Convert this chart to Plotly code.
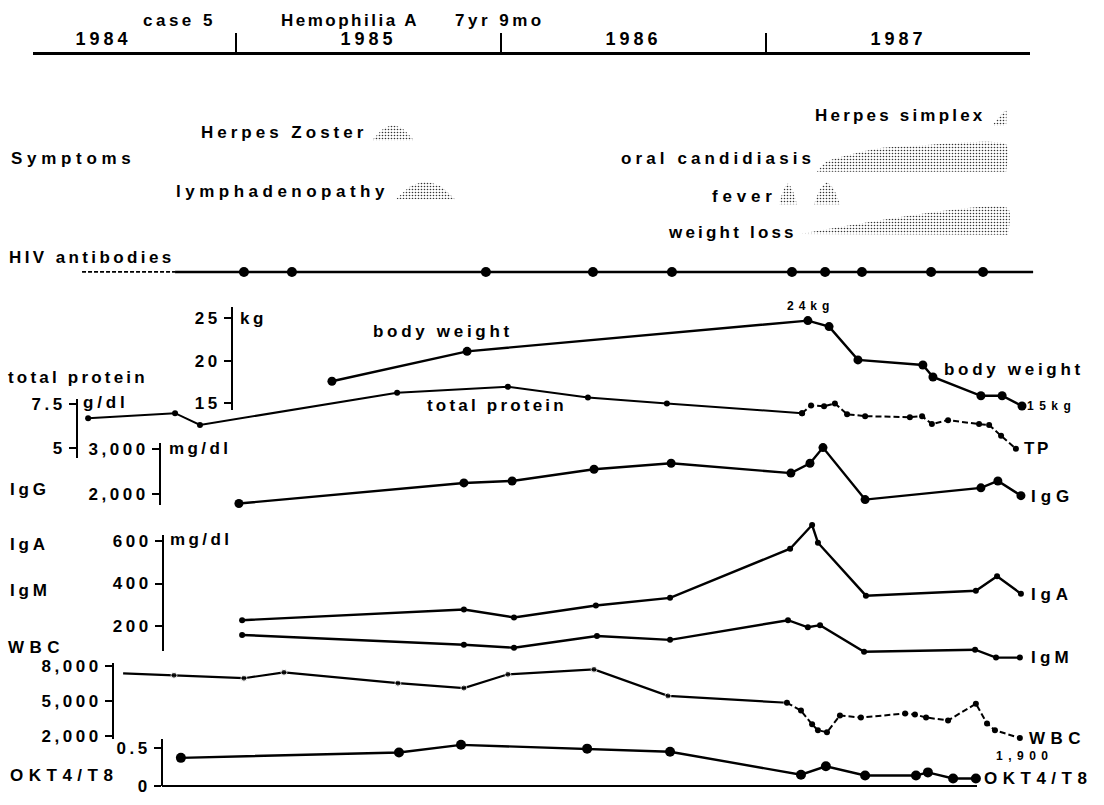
import plotly.graph_objects as go

W, H = 1104, 805

# ---------------- data ----------------
year_labels = ["1984", "1985", "1986", "1987"]
year_bounds = [1985, 1986, 1987]

hiv_dates = [1985.030, 1985.211, 1985.943, 1986.347, 1986.645,
             1987.098, 1987.223, 1987.362, 1987.623, 1987.819]
hiv_unknown_span = [1984.419, 1984.770]
hiv_positive_span = [1984.770, 1988.008]

bw_dates = [1985.362, 1985.872, 1987.158, 1987.238, 1987.347,
            1987.592, 1987.630, 1987.811, 1987.891, 1987.966]
bw_kg = [17.6, 21.1, 24.7, 24.0, 20.1, 19.5, 18.1, 15.9, 15.9, 14.7]

tp_dates = [1984.442, 1984.770, 1984.864, 1985.608, 1986.026, 1986.328, 1986.626,
            1987.136, 1987.170, 1987.219, 1987.260, 1987.306, 1987.374, 1987.543,
            1987.589, 1987.626, 1987.687, 1987.804, 1987.842, 1987.887, 1987.943]
tp_gdl = [6.70, 6.99, 6.31, 8.18, 8.52, 7.90, 7.56,
          6.99, 7.44, 7.39, 7.56, 6.93, 6.82, 6.76,
          6.82, 6.36, 6.59, 6.36, 6.31, 5.68, 4.94]
tp_dense_from = 7

igg_dates = [1985.011, 1985.860, 1986.042, 1986.351, 1986.642, 1987.094,
             1987.166, 1987.215, 1987.374, 1987.811, 1987.875, 1987.962]
igg = [1783, 2239, 2283, 2543, 2674, 2457, 2674, 3022, 1870, 2130, 2283, 1957]

iga_dates = [1985.023, 1985.860, 1986.049, 1986.358, 1986.638, 1987.091,
             1987.174, 1987.196, 1987.377, 1987.792, 1987.872, 1987.962]
iga = [228, 278, 241, 297, 333, 563, 674, 591, 343, 366, 434, 352]

igm_dates = [1985.023, 1985.860, 1986.049, 1986.362, 1986.638, 1987.083,
             1987.158, 1987.204, 1987.370, 1987.789, 1987.868, 1987.958]
igm = [159, 113, 99, 154, 136, 228, 195, 205, 80, 90, 53, 53]

wbc_dates = [1984.574, 1984.766, 1985.030, 1985.181, 1985.611, 1985.860, 1986.026,
             1986.351, 1986.630, 1987.079, 1987.132, 1987.174, 1987.196, 1987.230,
             1987.279, 1987.358, 1987.525, 1987.562, 1987.604, 1987.687, 1987.792,
             1987.834, 1987.864, 1987.958]
wbc = [7408, 7239, 6986, 7493, 6563, 6140, 7324, 7746, 5464, 4872, 4196, 3013,
       2506, 2337, 3774, 3604, 3943, 3858, 3604, 3351, 4788, 3097, 2506, 1829]
wbc_dense_from = 9

okt_dates = [1984.792, 1985.615, 1985.849, 1986.325, 1986.638, 1987.132,
             1987.226, 1987.374, 1987.566, 1987.611, 1987.706, 1987.792]
okt = [0.37, 0.44, 0.54, 0.49, 0.45, 0.15, 0.26, 0.14, 0.14, 0.18, 0.10, 0.10]

# symptom intensity profiles (time, relative intensity 0..1)
sym_names = ["Herpes Zoster", "lymphadenopathy", "Herpes simplex",
             "oral candidiasis", "fever", "fever", "weight loss"]
sym_t = [
    [1985.513, 1985.555, 1985.592, 1985.630, 1985.672],
    [1985.604, 1985.660, 1985.713, 1985.770, 1985.826],
    [1987.853, 1987.906, 1987.906],
    [1987.192, 1987.226, 1987.321, 1987.426, 1987.562, 1987.906, 1987.906],
    [1987.049, 1987.066, 1987.083, 1987.100, 1987.117],
    [1987.181, 1987.205, 1987.230, 1987.255, 1987.279],
    [1987.125, 1987.913, 1987.913],
]
sym_i = [
    [0, 0.42, 0.55, 0.42, 0],
    [0, 0.48, 0.64, 0.48, 0],
    [0, 0.56, 0],
    [0, 0.36, 0.64, 0.86, 0.95, 1.0, 0],
    [0, 0.52, 0.75, 0.52, 0],
    [0, 0.56, 0.80, 0.56, 0],
    [0.02, 0.96, 0],
]

# ---------------- layout constants (pixels of the page) ----------------
X0_PX, YEAR_PX = 236, 265          # 1985-01-01 at x=236, one year = 265 px
def t_of_px(px):
    return 1985 + (px - X0_PX) / YEAR_PX

def PX(x):
    return x / W

def PY(y):
    return 1 - y / H

sym_lane_px = [138, 198, 123, 170, 203, 203, 234]
sym_height_px = 28
hiv_lane_px = 272

FONT = "Liberation Sans, Arial, sans-serif"

def sp(s, ls=2.5):
    return f'<span style="letter-spacing:{ls}px">{s}</span>'

fig = go.Figure()
layout_axes = {}

# lane axis for symptoms and HIV (value = -pixel row)
layout_axes["yaxis"] = dict(domain=[0, 1], range=[-H, 0], visible=False, fixedrange=True)

def scale_axis(v1, p1, v2, p2, ptop, pbot):
    k = (p2 - p1) / (v2 - v1)
    val = lambda p: v1 + (p - p1) / k
    return [val(pbot), val(ptop)]

panels = [
    ("kg", (25, 319, 15, 406), 232, 308, 413, [25, 20, 15], ["25", "20", "15"]),
    ("tp", (7.5, 407, 5, 451), 77, 401, 462, [7.5, 5], ["7.5", "5"]),
    ("igg", (3000, 452, 2000, 498), 160, 446, 510, [3000, 2000], ["3,000", "2,000"]),
    ("igam", (600, 546, 200, 633), 163, 540, 658, [600, 400, 200], ["600", "400", "200"]),
    ("wbc", (8000, 674, 2000, 745), 113, 670, 748, [8000, 5000, 2000], ["8,000", "5,000", "2,000"]),
    ("okt", (0.5, 757, 0, 796), 162, 748, 796, [0.5, 0], ["0.5", "0"]),
]
data_axis = {}
n = 2
for name, (v1, p1, v2, p2), ax_px, ptop, pbot, tv, tt in panels:
    data_axis[name] = f"y{n}"
    layout_axes[f"yaxis{n}"] = dict(domain=[0, 1], range=scale_axis(v1, p1, v2, p2, 0, H),
                                   visible=False, anchor="x", fixedrange=True)
    layout_axes[f"yaxis{n+1}"] = dict(
        domain=[PY(pbot), PY(ptop)], range=scale_axis(v1, p1, v2, p2, ptop, pbot),
        anchor="free", position=PX(ax_px), side="left",
        showline=True, linecolor="black", linewidth=2,
        ticks="outside", ticklen=7, tickwidth=2, tickcolor="black",
        tickvals=tv, ticktext=[sp(s, 3.5) for s in tt], showgrid=False, zeroline=False,
        tickfont=dict(size=17, family=FONT, color="black", weight="bold"), fixedrange=True)
    fig.add_trace(go.Scatter(x=[None], y=[None], xaxis="x", yaxis=f"y{n+1}",
                             showlegend=False, hoverinfo="skip"))
    n += 2

# top year axis (ticks + line) and labels
layout_axes["xaxis"] = dict(domain=[0, 1], range=[t_of_px(0), t_of_px(W)], visible=False,
                            anchor="y", fixedrange=True)
layout_axes["xaxis2"] = dict(domain=[PX(33), PX(1030)], range=[t_of_px(33), t_of_px(1030)],
                             anchor="free", position=PY(49), side="top",
                             showline=True, linecolor="black", linewidth=2.5,
                             ticks="outside", ticklen=19, tickwidth=2, tickcolor="black",
                             tickvals=year_bounds, showticklabels=False,
                             showgrid=False, zeroline=False, fixedrange=True)
layout_axes["xaxis3"] = dict(domain=[PX(33), PX(1030)], range=[t_of_px(33), t_of_px(1030)],
                             anchor="free", position=PY(49), side="top",
                             showline=False, ticks="outside", ticklen=1,
                             tickcolor="rgba(0,0,0,0)",
                             tickvals=[int(y) + 0.5 for y in year_labels],
                             ticktext=[sp(y, 4) for y in year_labels],
                             tickfont=dict(size=18, family=FONT, color="black", weight="bold"),
                             showgrid=False, zeroline=False, fixedrange=True)
# OKT4/T8 zero baseline
layout_axes["xaxis4"] = dict(domain=[PX(162), PX(977)], range=[t_of_px(162), t_of_px(977)],
                             anchor="free", position=PY(796), showline=True,
                             linecolor="black", linewidth=2, ticks="", showticklabels=False,
                             showgrid=False, zeroline=False, fixedrange=True)
for xa in ["x2", "x3", "x4"]:
    fig.add_trace(go.Scatter(x=[None], y=[None], xaxis=xa, yaxis="y",
                             showlegend=False, hoverinfo="skip"))

# ---------------- symptoms ----------------
for name, ts, iv, lane in zip(sym_names, sym_t, sym_i, sym_lane_px):
    fig.add_trace(go.Scatter(
        x=ts, y=[-lane + v * sym_height_px for v in iv], xaxis="x", yaxis="y",
        mode="lines", fill="toself",
        line=dict(width=0, color="rgba(0,0,0,0)", shape="spline", smoothing=0.6),
        fillcolor="rgba(0,0,0,0)",
        fillpattern=dict(shape=".", size=3, solidity=0.22, fgcolor="#333", bgcolor="white",
                         fillmode="replace"),
        showlegend=False, hoverinfo="skip"))

# ---------------- HIV antibodies ----------------
fig.add_trace(go.Scatter(x=hiv_unknown_span, y=[-hiv_lane_px] * 2, xaxis="x", yaxis="y",
                         mode="lines", line=dict(color="black", width=1.8, dash="4px,2px"),
                         showlegend=False, hoverinfo="skip"))
fig.add_trace(go.Scatter(x=hiv_positive_span, y=[-hiv_lane_px] * 2, xaxis="x", yaxis="y",
                         mode="lines", line=dict(color="black", width=2.5),
                         showlegend=False, hoverinfo="skip"))
fig.add_trace(go.Scatter(x=hiv_dates, y=[-hiv_lane_px] * len(hiv_dates), xaxis="x", yaxis="y",
                         mode="markers", marker=dict(color="black", size=10),
                         showlegend=False, hoverinfo="skip"))

# ---------------- lab series ----------------
def series(xs, ys, yax, msize, lw=2.4, dash=None, sizes=None):
    fig.add_trace(go.Scatter(
        x=xs, y=ys, xaxis="x", yaxis=yax, mode="lines+markers", cliponaxis=False,
        line=dict(color="black", width=lw, dash=dash),
        marker=dict(color="black", size=sizes if sizes is not None else msize),
        showlegend=False, hoverinfo="skip"))

series(bw_dates, bw_kg, data_axis["kg"], 9)
series(tp_dates[:tp_dense_from + 1], tp_gdl[:tp_dense_from + 1], data_axis["tp"], 6, lw=2)
series(tp_dates[tp_dense_from:], tp_gdl[tp_dense_from:], data_axis["tp"], 6, lw=2, dash="6px,3px")
series(igg_dates, igg, data_axis["igg"], 9)
series(iga_dates, iga, data_axis["igam"], 6)
series(igm_dates, igm, data_axis["igam"], 6)
wbc_sizes = [0] + [6] * (len(wbc) - 1)
series(wbc_dates[:wbc_dense_from + 1], wbc[:wbc_dense_from + 1], data_axis["wbc"], 6, lw=2.2,
       sizes=wbc_sizes[:wbc_dense_from + 1])
series(wbc_dates[wbc_dense_from:], wbc[wbc_dense_from:], data_axis["wbc"], 6, lw=2,
       dash="6px,3px")
series(okt_dates, okt, data_axis["okt"], 10, lw=2.4)

# ---------------- text ----------------
ann = []
def txt(s, x, y, anchor="left", size=17, ls=4, bold=True):
    ann.append(dict(text=sp(s, ls), x=PX(x), y=PY(y), xref="paper", yref="paper",
                    xanchor=anchor, yanchor="middle", showarrow=False,
                    font=dict(size=size, family=FONT, color="black",
                              weight="bold" if bold else "normal")))

# title
txt("case 5", 141, 16, ls=3.5)
txt("Hemophilia A", 279, 16, ls=2.5)
txt("7yr 9mo", 453, 16, ls=3.5)
# symptoms
txt("Symptoms", 9, 156, ls=4.7)
txt("Herpes Zoster", 369, 130, "right", ls=4.0)
txt("lymphadenopathy", 391, 190, "right", ls=4.5)
txt("Herpes simplex", 987, 113, "right", ls=3.2)
txt("oral candidiasis", 817, 156, "right", ls=4.1)
txt("fever", 779, 195, "right", ls=4.8)
txt("weight loss", 799, 232, "right", ls=3.2)
txt("HIV antibodies", 7, 257, ls=3.4)
# left labels
txt("total protein", 6, 380, ls=3.2)
txt("IgG", 8, 494, ls=3.8)
txt("IgA", 8, 550, ls=3.8)
txt("IgM", 8, 597, ls=3.8)
txt("WBC", 6, 655, ls=5.5)
txt("OKT4/T8", 8, 785, ls=5.5)
# units
txt("kg", 238, 319, ls=3.5)
txt("g/dl", 81, 405, ls=3.8)
txt("mg/dl", 167, 452, ls=3.4)
txt("mg/dl", 168, 545, ls=3.4)
# in-plot labels
txt("body weight", 443, 333, "center", ls=3.7)
txt("total protein", 497, 408, "center", ls=3.2)
txt("24kg", 810, 307, "center", size=12, ls=5)
txt("body weight", 942, 371, ls=3.7)
txt("15kg", 1025, 409, size=12, ls=5.5)
txt("TP", 1022, 452, ls=2.5)
txt("IgG", 1029, 501, ls=5)
txt("IgA", 1029, 601, ls=4.8)
txt("IgM", 1029, 665, ls=4.2)
txt("WBC", 1027, 747, ls=5.5)
txt("1,900", 1025, 765, "center", size=12, ls=5.5)
txt("OKT4/T8", 982, 788, ls=5.5)

fig.update_layout(
    width=W, height=H, margin=dict(l=0, r=0, t=0, b=0),
    paper_bgcolor="white", plot_bgcolor="rgba(0,0,0,0)",
    showlegend=False, annotations=ann,
    font=dict(family=FONT, color="black"),
    **layout_axes,
)

fig.write_html("out.html", config={"displayModeBar": False},
               post_script="document.body.style.margin='0';")
